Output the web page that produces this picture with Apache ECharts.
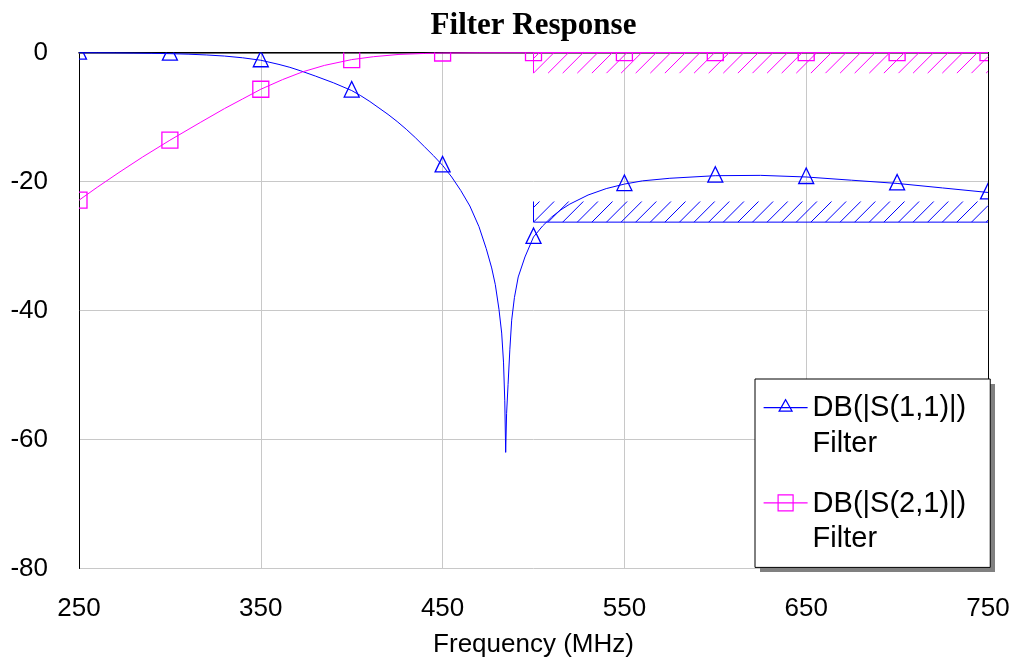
<!DOCTYPE html>
<html>
<head>
<meta charset="utf-8">
<script src="https://cdn.jsdelivr.net/npm/echarts@6/dist/echarts.min.js"></script>
<style>html,body{margin:0;padding:0;background:#fff}#chart{width:1015px;height:660px}</style>
</head>
<body>
<div id="chart"></div>
<script>
// ---- data ----
const titleText = 'Filter Response';
const xName = 'Frequency (MHz)';
const xTicks = [250, 350, 450, 550, 650, 750];
const yTicks = [-80, -60, -40, -20, 0];
const s11Name = 'DB(|S(1,1)|)';
const s21Name = 'DB(|S(2,1)|)';
const docName = 'Filter';

const s11Freq = [250,260,270,280,290,300,310,320,330,340,350,360,366,372,380,390,400,405,410,415,420,425,430,435,440,445,450,455,460,465,470,474,477,479,481,482.5,483.5,484.2,484.7,485.2,486,487,488,489.5,491.6,495.3,500,505,510,515,520,530,540,550,560,575,600,625,650,675,700,725,750];
const s11Db   = [-0.03,-0.04,-0.06,-0.09,-0.13,-0.18,-0.26,-0.38,-0.55,-0.82,-1.2,-1.85,-2.3,-2.85,-3.65,-4.7,-5.9,-6.7,-7.6,-8.6,-9.6,-10.7,-11.9,-13.2,-14.6,-16.0,-17.5,-19.3,-21.4,-23.8,-27.0,-30.4,-33.4,-36.0,-39.8,-43.5,-48,-54,-62,-56,-51.5,-46,-41.5,-38,-34.8,-31.7,-28.6,-26.9,-25.5,-24.4,-23.5,-22.1,-21.1,-20.4,-19.9,-19.5,-19.1,-19.05,-19.3,-19.8,-20.3,-21.0,-21.7];

const s21Freq = [250,260,272,285,300,317,330,340,350,362,373,385,400,412,426,440,450,470,500,550,600,650,700,750];
const s21Db   = [-22.9,-20.9,-18.6,-16.2,-13.6,-10.8,-8.7,-7.2,-5.7,-4.2,-3.0,-2.0,-1.1,-0.65,-0.3,-0.15,-0.08,-0.04,-0.03,-0.02,-0.02,-0.02,-0.02,-0.02];

const markerFreqs = [250,300,350,400,450,500,550,600,650,700,750];

// spec (goal) regions: frequency range and dB limits [line, hatch edge]
const s11SpecFreq = [500, 750];
const s11SpecDb = [-26.3, -23.1];
const s21SpecFreq = [500, 750];
const s21SpecDb = [0, -3.2];

// ---- helpers ----
const BLUE = '#0000ff', MAG = '#ff00ff';
const zip = (a, b) => a.map((v, i) => [v, b[i]]);
const pick = (f, d) => zip(f, d).filter(p => markerFreqs.indexOf(p[0]) >= 0);

const sansFont = '"Liberation Sans", Arial, Helvetica, sans-serif';
const serifFont = '"Liberation Serif", "Times New Roman", serif';

// title centred on the plot area
const plotLeft = 79, plotRight = 988;
const mctx = document.createElement('canvas').getContext('2d');
mctx.font = 'bold 31px ' + serifFont;
const titleW = mctx.measureText(titleText).width;

const chart = echarts.init(document.getElementById('chart'), null, {renderer: 'canvas'});

function specLine(freq, db, color) {
  return {
    type: 'line',
    data: [[freq[0], db[1]], [freq[0], db[0]], [freq[1], db[0]]],
    symbol: 'none', silent: true, z: 3, clip: false,
    lineStyle: {color: color, width: 1},
    itemStyle: {color: color}
  };
}

function specHatch(freq, db, color) {
  return {
    type: 'custom', silent: true, clip: false, z: 2,
    data: [[freq[0], db[0], freq[1], db[1]]],
    encode: {x: [0, 2], y: [1, 3]},
    itemStyle: {color: color},
    renderItem: function (params, api) {
      const a = api.coord([api.value(0), api.value(1)]);
      const b = api.coord([api.value(2), api.value(3)]);
      const x0 = Math.min(a[0], b[0]), x1 = Math.max(a[0], b[0]);
      const yT = Math.min(a[1], b[1]), yB = Math.max(a[1], b[1]);
      const h = yB - yT, s = 14.6;
      const children = [];
      for (let k = -Math.ceil(h / s); x0 + k * s < x1; k++) {
        let sx = x0 + k * s, sy = yB, ex = sx + h, ey = yT;
        if (sx < x0) { sy -= (x0 - sx); sx = x0; }
        if (ex > x1) { ey += (ex - x1); ex = x1; }
        if (ex > sx) children.push({type: 'line', shape: {x1: sx, y1: sy, x2: ex, y2: ey},
          style: {stroke: color, fill: null, lineWidth: 1}});
      }
      return {type: 'group', children: children};
    }
  };
}

function markerSeries(name, data, color, kind) {
  return {
    type: 'custom', name: name, clip: true, silent: true, z: 5,
    data: data,
    encode: {x: 0, y: 1},
    itemStyle: {color: color},
    renderItem: function (params, api) {
      const p = api.coord([api.value(0), api.value(1)]);
      if (kind === 'tri') {
        return {type: 'polygon', shape: {points: [[p[0], p[1] - 9], [p[0] - 7.5, p[1] + 6.5], [p[0] + 7.5, p[1] + 6.5]]},
          style: {fill: 'none', stroke: color, lineWidth: 1.3}};
      }
      return {type: 'rect', shape: {x: p[0] - 8, y: p[1] - 8, width: 16, height: 16},
        style: {fill: 'none', stroke: color, lineWidth: 1.3}};
    }
  };
}

const option = {
  animation: false,
  backgroundColor: '#fff',
  title: {
    text: titleText, left: (plotLeft + plotRight) / 2 - titleW / 2, top: 10, padding: 0, textAlign: 'left',
    textStyle: {fontFamily: serifFont, fontWeight: 'bold', fontSize: 31, color: '#000'}
  },
  grid: {left: plotLeft, right: 1015 - plotRight, top: 52.5, bottom: 91.5, containLabel: false, outerBoundsMode: 'none'},
  graphic: [{
    type: 'rect', left: 760, top: 384, shape: {width: 235, height: 188},
    style: {fill: '#808080'}, z: 19, silent: true
  }],
  legend: {
    orient: 'vertical', left: 755, top: 379, z: 20,
    selectedMode: false,
    itemWidth: 44, itemHeight: 71, itemGap: 23, symbolKeepAspect: false,
    padding: [11, 24, 10, 8],
    backgroundColor: '#fff', borderColor: '#000', borderWidth: 1, borderRadius: 0,
    formatter: n => n + '\n' + docName,
    textStyle: {fontFamily: sansFont, fontSize: 29, lineHeight: 35.5, color: '#000'},
    data: [
      {name: s11Name, icon: 'path://M0,0L0,0M44,71L44,71M0,17L44,17M22,9L15.5,20.5L28.5,20.5Z',
       itemStyle: {color: 'rgba(0,0,0,0)', borderColor: BLUE, borderWidth: 1.2}},
      {name: s21Name, icon: 'path://M0,0L0,0M44,71L44,71M0,17L44,17M14.5,9L29.5,9L29.5,25L14.5,25Z',
       itemStyle: {color: 'rgba(0,0,0,0)', borderColor: MAG, borderWidth: 1.2}}
    ]
  },
  xAxis: [{
    type: 'value', min: xTicks[0], max: xTicks[xTicks.length - 1], interval: xTicks[1] - xTicks[0],
    name: xName, nameLocation: 'middle', nameGap: 63,
    nameTextStyle: {fontFamily: sansFont, fontSize: 26, color: '#000'},
    axisLine: {show: true, lineStyle: {color: '#404040', width: 1.5}},
    axisTick: {show: false},
    axisLabel: {fontFamily: sansFont, fontSize: 26, color: '#000', margin: 27},
    splitLine: {show: true, lineStyle: {color: '#c8c8c8', width: 1}}
  }, {
    type: 'value', position: 'top', min: xTicks[0], max: xTicks[xTicks.length - 1],
    axisLine: {show: true, lineStyle: {color: '#000', width: 1}},
    axisTick: {show: false}, axisLabel: {show: false}, splitLine: {show: false}
  }],
  yAxis: [{
    type: 'value', min: yTicks[0], max: yTicks[yTicks.length - 1], interval: yTicks[1] - yTicks[0],
    axisLine: {show: true, lineStyle: {color: '#000', width: 1}},
    axisTick: {show: false},
    axisLabel: {fontFamily: sansFont, fontSize: 26, color: '#000', margin: 31},
    splitLine: {show: true, lineStyle: {color: '#c8c8c8', width: 1}}
  }, {
    type: 'value', position: 'right', min: yTicks[0], max: yTicks[yTicks.length - 1],
    axisLine: {show: true, lineStyle: {color: '#000', width: 1}},
    axisTick: {show: false}, axisLabel: {show: false}, splitLine: {show: false}
  }],
  series: [
    specHatch(s21SpecFreq, s21SpecDb, MAG),
    specHatch(s11SpecFreq, s11SpecDb, BLUE),
    specLine(s21SpecFreq, s21SpecDb, MAG),
    specLine(s11SpecFreq, s11SpecDb, BLUE),
    {
      type: 'line', name: s11Name, data: zip(s11Freq, s11Db), showSymbol: false, symbol: 'triangle',
      clip: false, z: 4, silent: true,
      lineStyle: {color: BLUE, width: 1}, itemStyle: {color: BLUE}
    },
    {
      type: 'line', name: s21Name, data: zip(s21Freq, s21Db), showSymbol: false, symbol: 'rect',
      clip: false, z: 4, silent: true,
      lineStyle: {color: MAG, width: 1}, itemStyle: {color: MAG}
    },
    markerSeries(s11Name, pick(s11Freq, s11Db), BLUE, 'tri'),
    markerSeries(s21Name, pick(s21Freq, s21Db), MAG, 'sq')
  ]
};
chart.setOption(option);
</script>
</body>
</html>
